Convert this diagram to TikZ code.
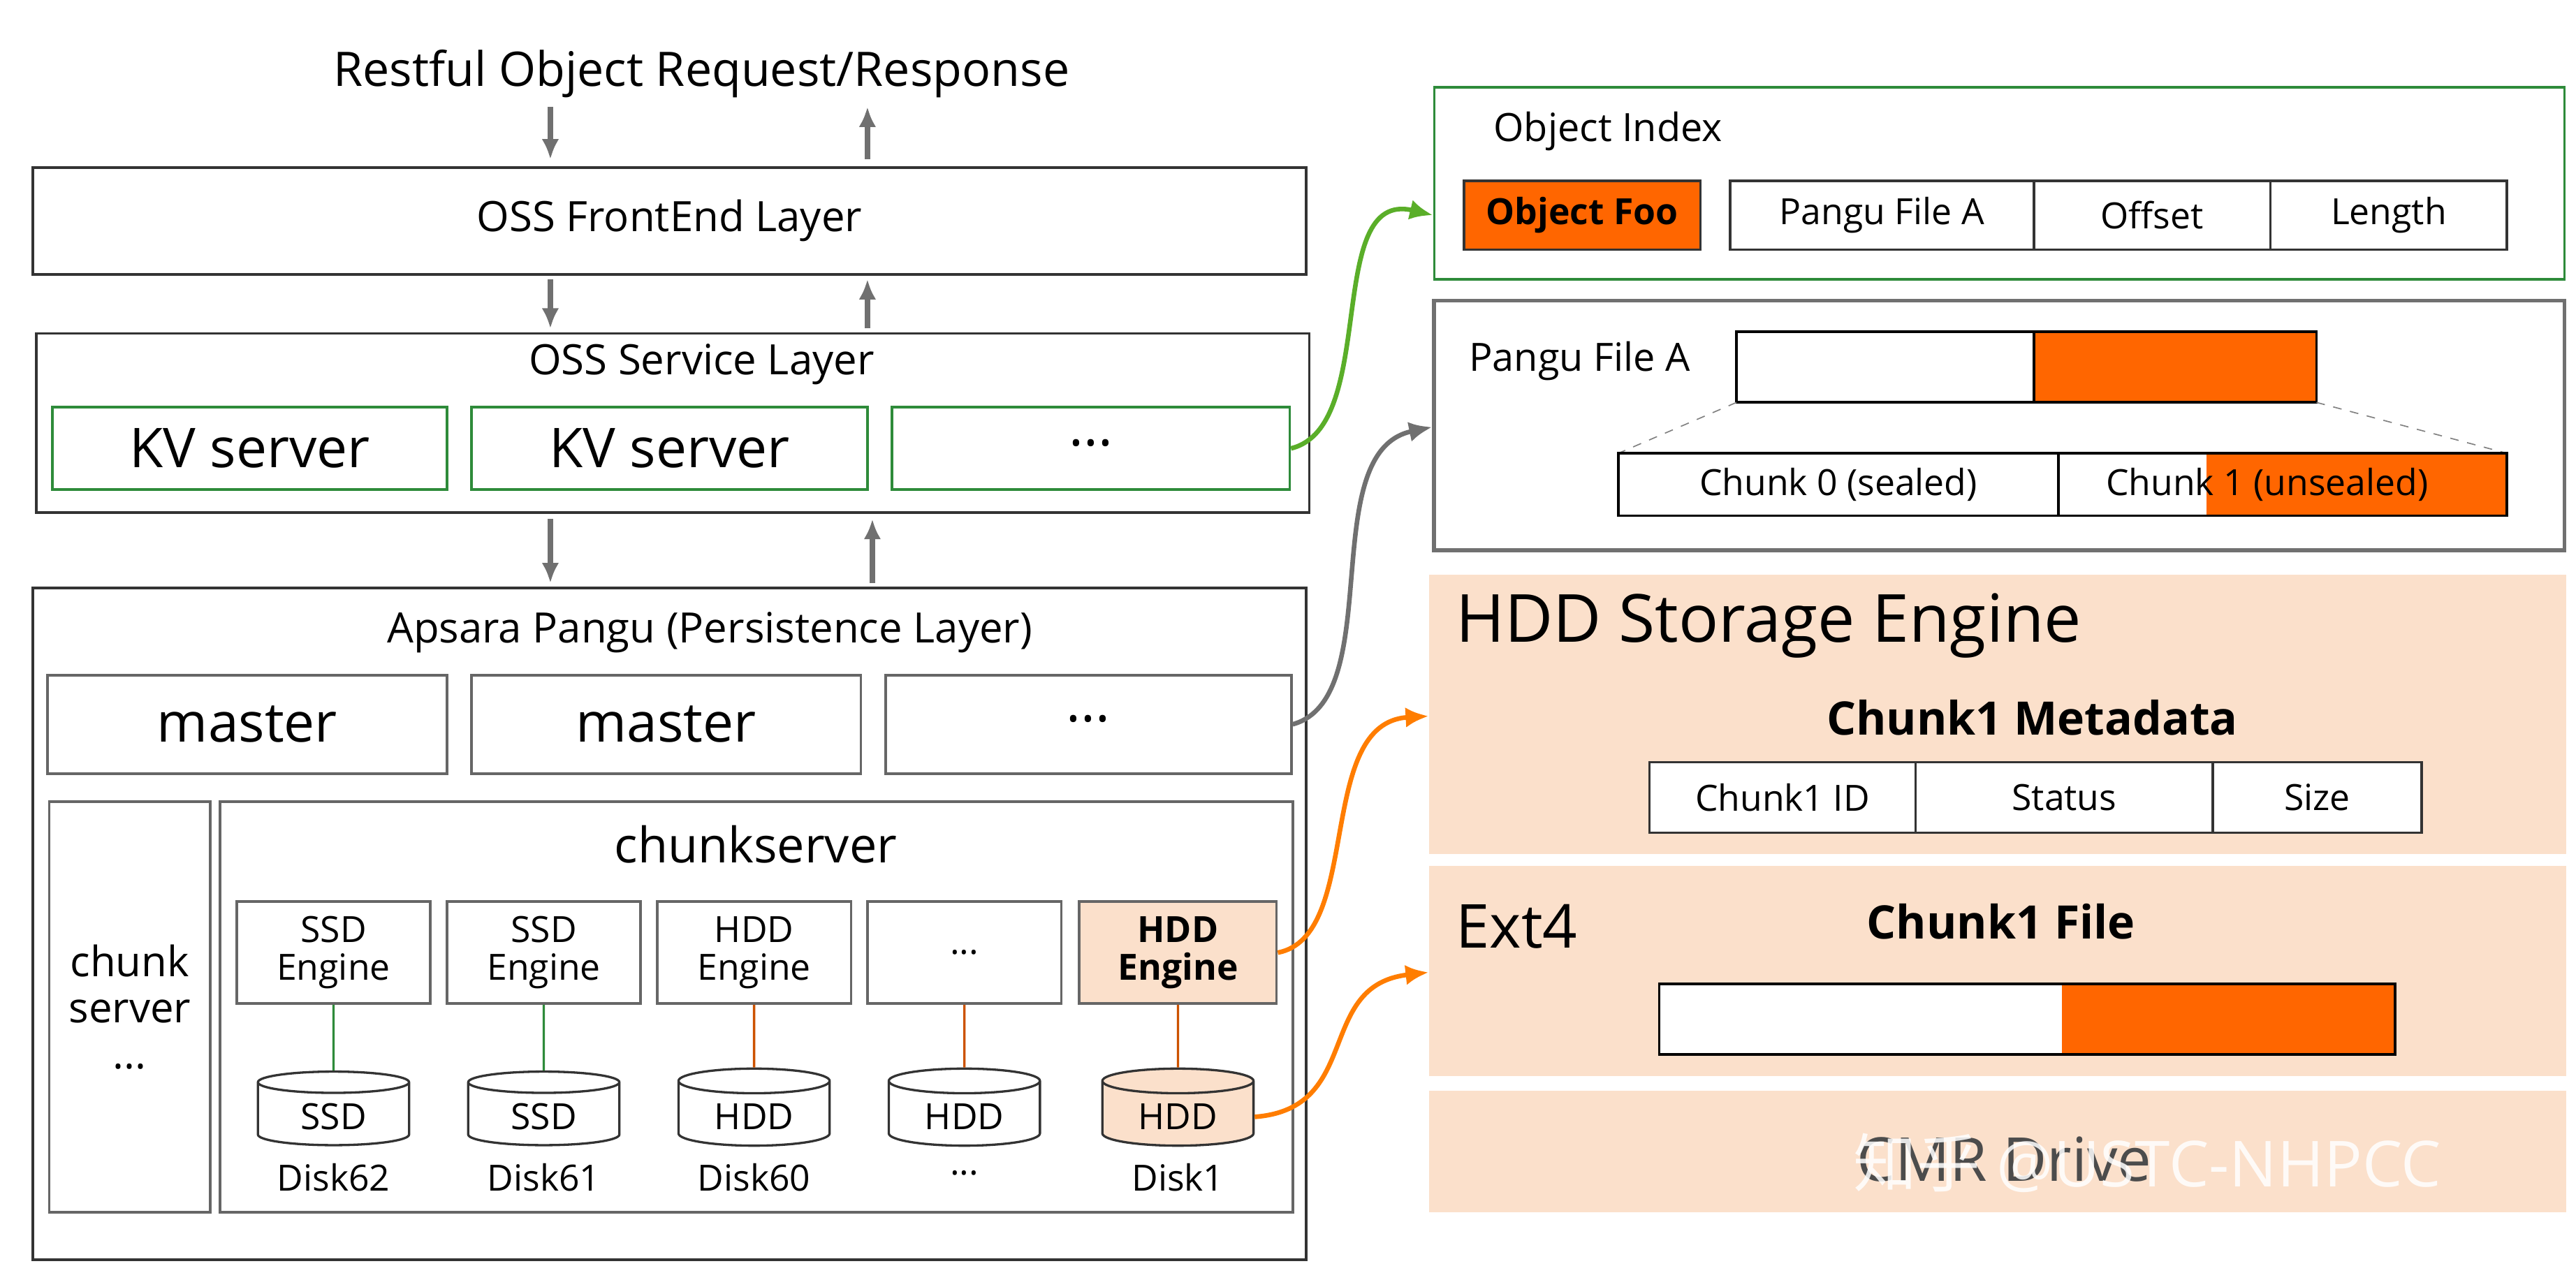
\documentclass[tikz,border=0pt]{standalone}
\usepackage{fontspec}
\setmainfont{Open Sans}
\newfontfamily\cjkf{Noto Sans CJK SC}
\usetikzlibrary{shapes.geometric,arrows.meta}
\definecolor{peach}{HTML}{FBE0CB}
\definecolor{orng}{HTML}{FF6600}
\definecolor{grn}{HTML}{2E8B3A}
\definecolor{gry}{HTML}{707070}
\begin{document}
\begin{tikzpicture}[x=0.02cm,y=-0.02cm,
 box/.style={draw=black!80,line width=0.9pt},
 gbox/.style={draw=grn,line width=0.9pt},
 arr/.style={-{Latex[length=7pt,width=6pt]},gry,line width=1.8pt},
 con/.style={-{Latex[length=8pt,width=7pt]},line width=1.6pt},
 t/.style={font=\fontsize{14.5}{16}\selectfont},
 big/.style={font=\fontsize{19}{20}\selectfont},
 eng/.style={font=\fontsize{12.5}{13}\selectfont,align=center},
 cyl/.style={cylinder,shape border rotate=90,draw=black!80,line width=0.8pt,minimum width=92*0.02cm,minimum height=44*0.02cm,aspect=0.25,font=\fontsize{12.5}{13}\selectfont}]
\useasboundingbox (0,0) rectangle (1568,775);
\node[font=\fontsize{16.5}{18}\selectfont] (title) at (427,45) {Restful Object Request/Response};
\node[box,minimum width=775*0.02cm,minimum height=65*0.02cm,t] (fe) at (407.5,134.5) {OSS FrontEnd Layer};
\coordinate (a1) at (335,65); \coordinate (a2) at (335,97);
\coordinate (a3) at (528,97); \coordinate (a4) at (528,65);
\draw[arr] (a1)--(a2); \draw[arr] (a3)--(a4);
\coordinate (b1) at (335,170); \coordinate (b2) at (335,200);
\coordinate (b3) at (528,200); \coordinate (b4) at (528,170);
\draw[arr] (b1)--(b2); \draw[arr] (b3)--(b4);
\node[box,minimum width=775*0.02cm,minimum height=109*0.02cm] (svc) at (409.5,257.5) {};
\node[t] (svct) at (427,222) {OSS Service Layer};
\node[gbox,minimum width=240*0.02cm,minimum height=50*0.02cm,big] (kv1) at (152,273) {KV server};
\node[gbox,minimum width=241*0.02cm,minimum height=50*0.02cm,big] (kv2) at (407.5,273) {KV server};
\node[gbox,minimum width=242*0.02cm,minimum height=50*0.02cm,big] (kv3) at (664,273) {\raisebox{4pt}{...}};
\coordinate (c1) at (335,316); \coordinate (c2) at (335,355);
\coordinate (c3) at (531,355); \coordinate (c4) at (531,316);
\draw[arr] (c1)--(c2); \draw[arr] (c3)--(c4);
\node[box,minimum width=775*0.02cm,minimum height=409*0.02cm] (pg) at (407.5,562.5) {};
\node[t] (pgt) at (432,385) {Apsara Pangu (Persistence Layer)};
\node[box,draw=black!60,minimum width=243*0.02cm,minimum height=60*0.02cm,big] (m1) at (150.5,441) {master};
\node[box,draw=black!60,minimum width=237*0.02cm,minimum height=60*0.02cm,big] (m2) at (405.5,441) {master};
\node[box,draw=black!60,minimum width=247*0.02cm,minimum height=60*0.02cm,big] (m3) at (662.5,441) {\raisebox{4pt}{...}};
\node[box,draw=black!60,minimum width=98*0.02cm,minimum height=250*0.02cm,t,align=center] (cs0) at (79,613) {chunk\\server\\...};
\node[box,draw=black!60,minimum width=653*0.02cm,minimum height=250*0.02cm] (cs) at (460.5,613) {};
\node[font=\fontsize{17}{18}\selectfont] (cst) at (460,514) {chunkserver};
\node[box,draw=black!60,minimum width=118*0.02cm,minimum height=62*0.02cm,eng] (e1) at (203,580) {SSD\\Engine};
\node[box,draw=black!60,minimum width=118*0.02cm,minimum height=62*0.02cm,eng] (e2) at (331,580) {SSD\\Engine};
\node[box,draw=black!60,minimum width=118*0.02cm,minimum height=62*0.02cm,eng] (e3) at (459,580) {HDD\\Engine};
\node[box,draw=black!60,minimum width=118*0.02cm,minimum height=62*0.02cm,eng] (e4) at (587,580) {...};
\node[box,draw=black!60,fill=peach,minimum width=120*0.02cm,minimum height=62*0.02cm,eng,font=\fontsize{12.5}{13}\selectfont\bfseries] (e5) at (717,580) {HDD\\Engine};
\node[cyl] (d1) at (203,680) {SSD};
\node[cyl] (d2) at (331,680) {SSD};
\node[cyl] (d3) at (459,680) {HDD};
\node[cyl] (d4) at (587,680) {HDD};
\node[cyl,fill=peach] (d5) at (717,680) {HDD};
\node[eng] (l1) at (203,717) {Disk62};
\node[eng] (l2) at (331,717) {Disk61};
\node[eng] (l3) at (459,717) {Disk60};
\node[eng] (l4) at (587,714) {...};
\node[eng] (l5) at (717,717) {Disk1};
\draw[grn,line width=0.8pt] (e1)--(d1); \draw[grn,line width=0.8pt] (e2)--(d2);
\draw[orng!80!black,line width=0.8pt] (e3)--(d3); \draw[orng!80!black,line width=0.8pt] (e4)--(d4); \draw[orng!80!black,line width=0.8pt] (e5)--(d5);
% right side
\node[gbox,minimum width=688*0.02cm,minimum height=117*0.02cm] (oi) at (1217,111.5) {};
\node[anchor=west,font=\fontsize{13.5}{15}\selectfont] (oit) at (903,80) {Object Index};
\node[box,fill=orng,minimum width=144*0.02cm,minimum height=42*0.02cm,font=\fontsize{12.5}{13}\selectfont\bfseries] (foo) at (963,131) {Object Foo};
\node[box,minimum width=185*0.02cm,minimum height=42*0.02cm,eng] (pa) at (1145.5,131) {Pangu File A};
\node[box,minimum width=144*0.02cm,minimum height=42*0.02cm,eng] (of) at (1310,131) {Offset};
\node[box,minimum width=144*0.02cm,minimum height=42*0.02cm,eng] (ln) at (1454,131) {Length};
\node[box,draw=gry,line width=1.4pt,minimum width=688*0.02cm,minimum height=152*0.02cm] (pf) at (1217,259) {};
\node[anchor=west,font=\fontsize{13.5}{15}\selectfont] (pft) at (888,220) {Pangu File A};
\fill[orng] (1238,202) rectangle (1410,245);
\draw[line width=0.9pt] (1057,202) rectangle (1410,245);
\draw[line width=0.9pt] (1238,202)--(1238,245);
\draw[dashed,gray] (1057,245)--(985,276); \draw[dashed,gray] (1410,245)--(1526,276);
\fill[orng] (1343,276) rectangle (1526,314);
\draw[line width=0.9pt] (985,276) rectangle (1526,314);
\draw[line width=0.9pt] (1253,276)--(1253,314);
\node[eng] (ch0) at (1119,295) {Chunk 0 (sealed)};
\node[eng] (ch1) at (1380,295) {Chunk 1 (unsealed)};
\node[fill=peach,minimum width=692*0.02cm,minimum height=170*0.02cm,inner sep=0] (hse) at (1216,435) {};
\node[anchor=west,font=\fontsize{23}{24}\selectfont] (hset) at (880,381) {HDD Storage Engine};
\node[font=\fontsize{16}{17}\selectfont\bfseries] (cm) at (1237,437) {Chunk1 Metadata};
\node[box,fill=white,minimum width=162*0.02cm,minimum height=43*0.02cm,eng] (cid) at (1085,485.5) {Chunk1 ID};
\node[box,fill=white,minimum width=181*0.02cm,minimum height=43*0.02cm,eng] (st) at (1256.5,485.5) {Status};
\node[box,fill=white,minimum width=127*0.02cm,minimum height=43*0.02cm,eng] (sz) at (1410.5,485.5) {Size};
\node[fill=peach,minimum width=692*0.02cm,minimum height=128*0.02cm,inner sep=0] (ext) at (1216,591) {};
\node[anchor=west,font=\fontsize{21}{22}\selectfont] (extt) at (880,564) {Ext4};
\node[font=\fontsize{16}{17}\selectfont\bfseries] (cf) at (1218,561) {Chunk1 File};
\fill[white] (1010,599) rectangle (1255,642);
\fill[orng] (1255,599) rectangle (1458,642);
\draw[line width=0.9pt] (1010,599) rectangle (1458,642);
\node[fill=peach,minimum width=692*0.02cm,minimum height=74*0.02cm,inner sep=0] (cmr) at (1216,701) {};
\node[font=\fontsize{21}{22}\selectfont,text=black!70] (cmrt) at (1220,706) {CMR Drive};
\node[font=\fontsize{22}{22}\selectfont,text=white,opacity=0.85] (wm) at (1307,708) {{\cjkf 知乎} @USTC-NHPCC};
% connectors
\draw[con,draw=grn!70!lime] (kv3.east) .. controls (840,260) and (805,115) .. (oi.west |- foo);
\draw[con,draw=gry] (m3.east) .. controls (845,425) and (800,275) .. (pf.west |- 0,260);
\draw[con,draw=orng!85!yellow] (e5.east) .. controls (830,570) and (800,440) .. (hse.west |- 0,436);
\draw[con,draw=orng!85!yellow] (d5.east) .. controls (830,675) and (800,600) .. (ext.west |- 0,592);
\end{tikzpicture}
\end{document}
